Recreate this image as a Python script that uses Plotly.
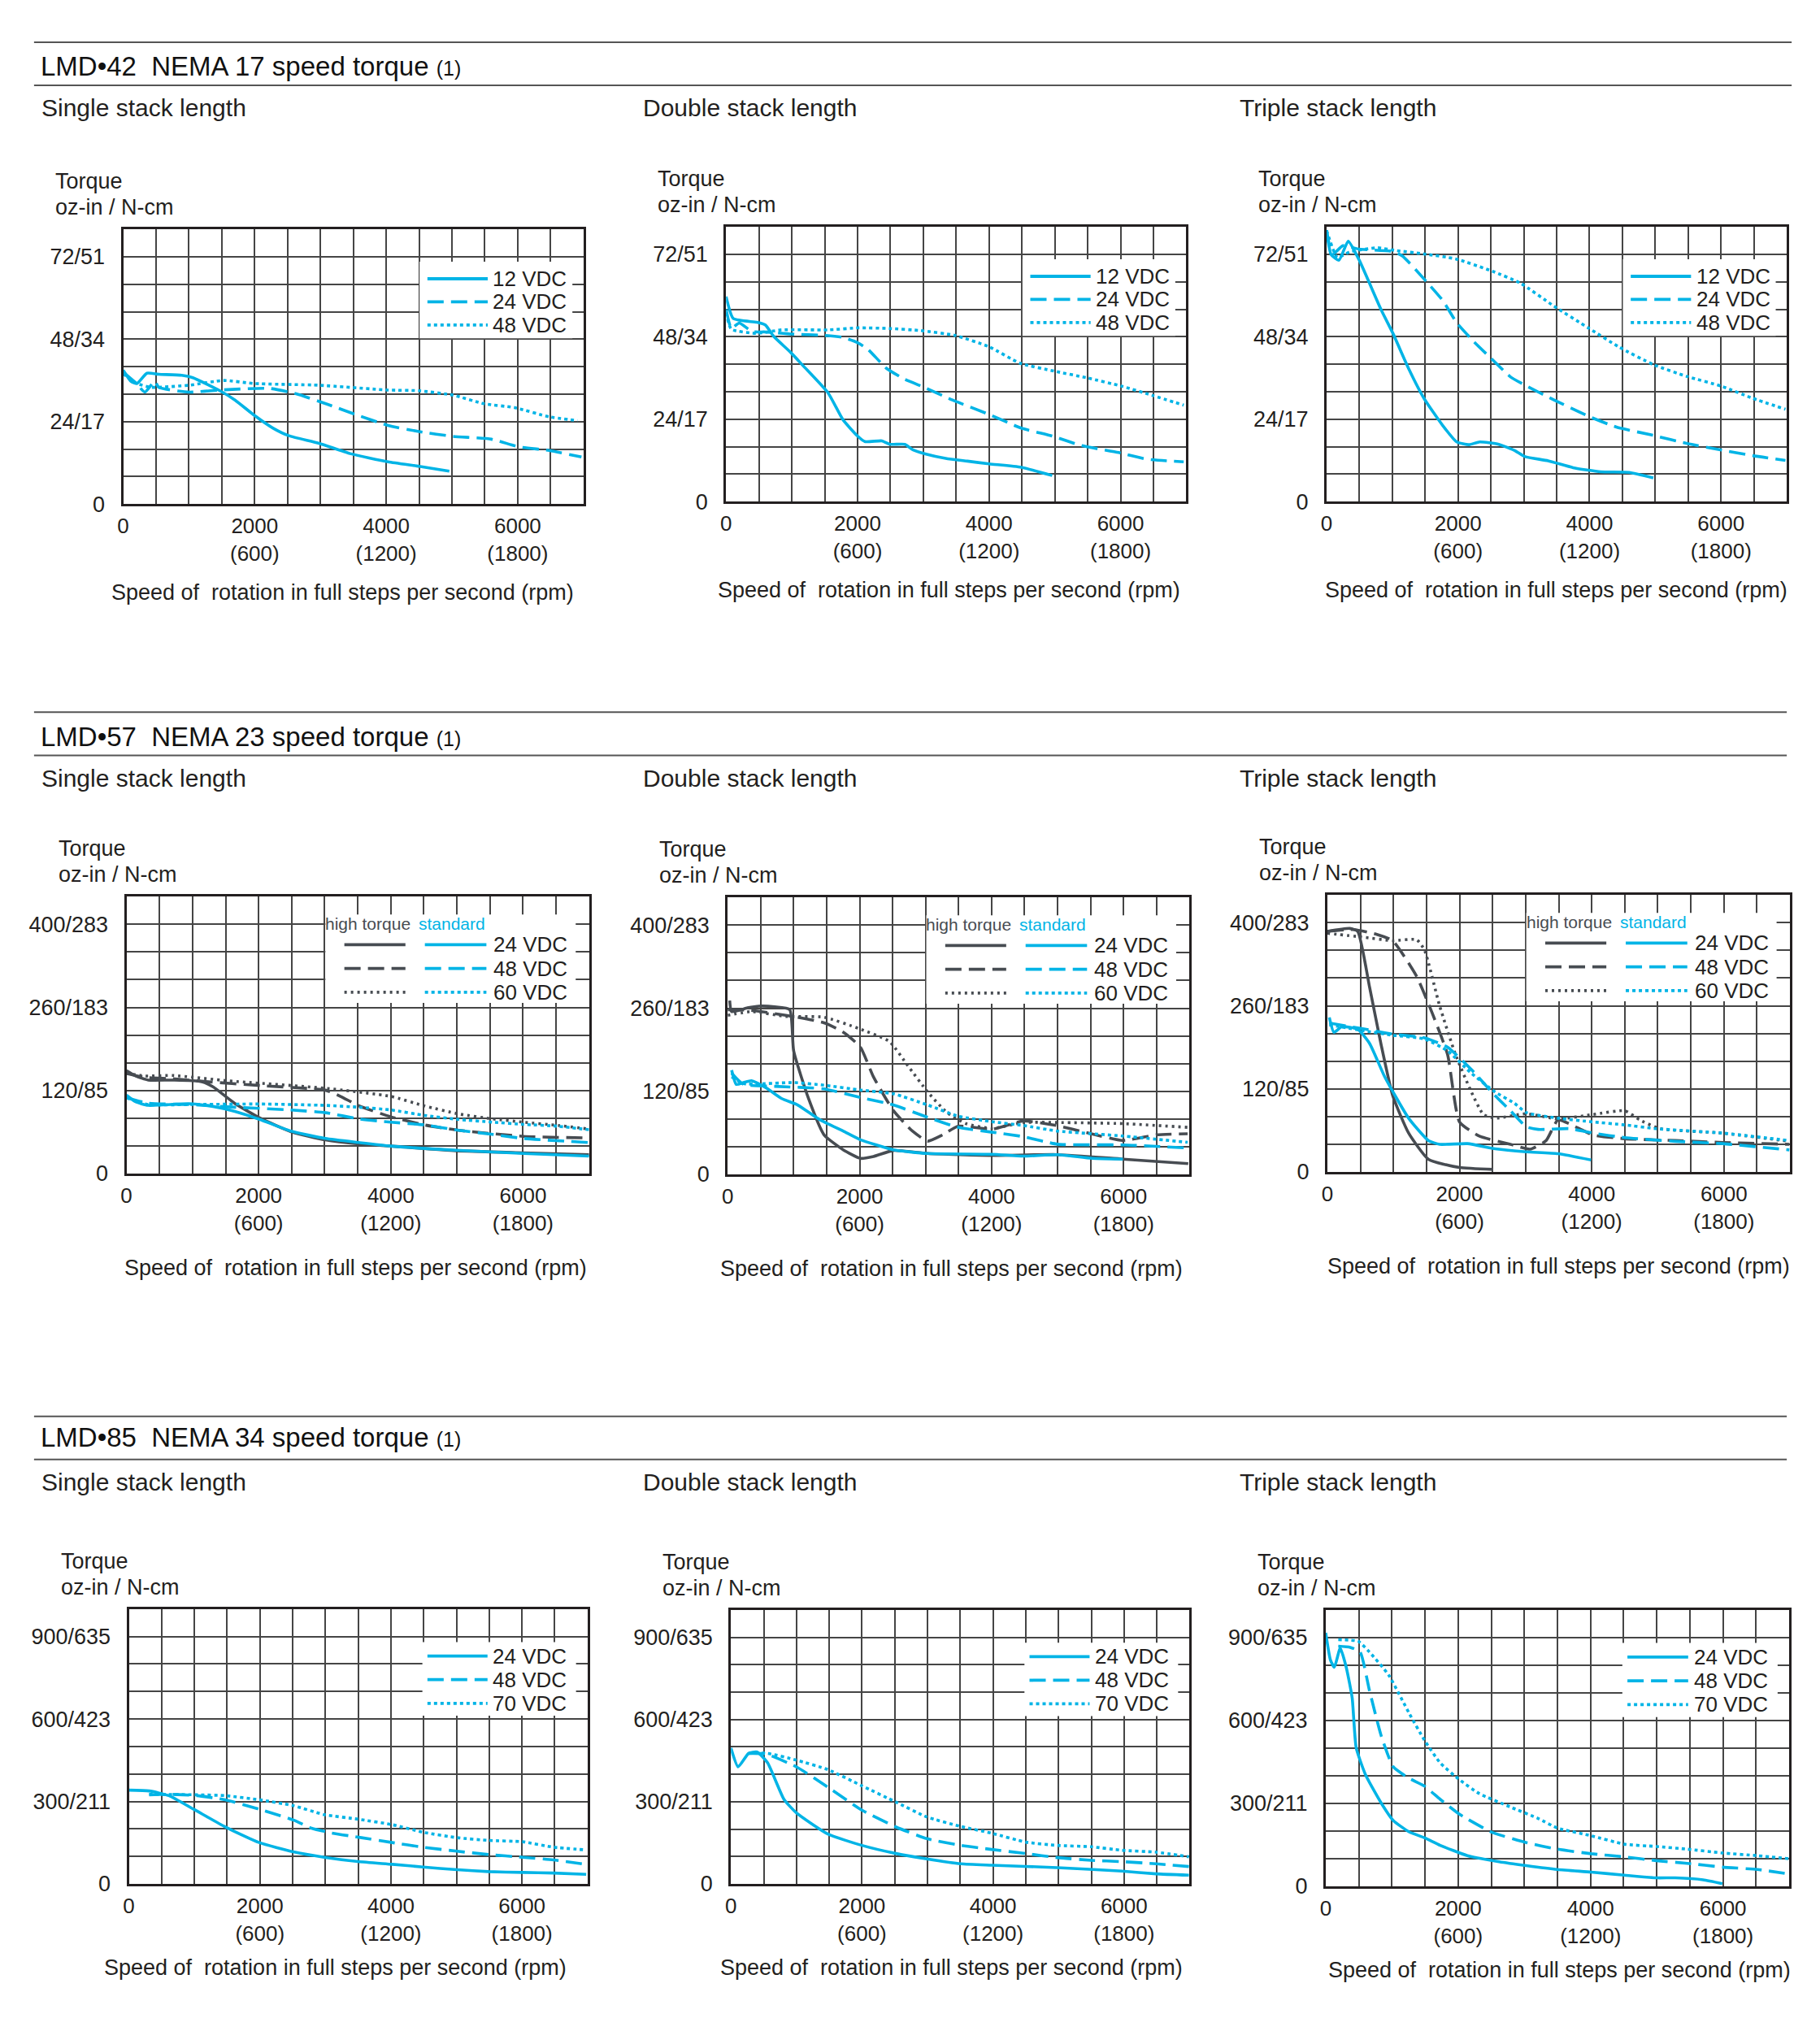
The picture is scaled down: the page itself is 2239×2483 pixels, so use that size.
import plotly.graph_objects as go

W, H = 2239, 2483
YS = 2483 / 2467          # compensation for the slight vertical squeeze seen in the render
FONT = "Liberation Sans, Arial, Helvetica, sans-serif"
TXT = "#231f20"
CYAN = "#00b4e6"
DARK = "#474c52"
GRID = "#454545"

# ---------------- axis text ----------------
speed_ticks = [0, 2000, 4000, 6000]
speed_tick_text = ["0", "2000<br>(600)", "4000<br>(1200)", "6000<br>(1800)"]
x_title = "Speed of\u00a0 rotation in full steps per second (rpm)"

n17_torque_labels = ["0", "24/17", "48/34", "72/51"]
n23_torque_labels = ["0", "120/85", "260/183", "400/283"]
n34_torque_labels = ["0", "300/211", "600/423", "900/635"]

section_titles = ["LMD\u202242", "LMD\u202257", "LMD\u202285"]
section_nema = ["NEMA 17 speed torque", "NEMA 23 speed torque", "NEMA 34 speed torque"]
stack_titles = ["Single stack length", "Double stack length", "Triple stack length"]

n17_volts = ["12 VDC", "24 VDC", "48 VDC"]
n23_volts = ["24 VDC", "48 VDC", "60 VDC"]
n34_volts = ["24 VDC", "48 VDC", "70 VDC"]

# ---------------- NEMA 17 (oz-in) ----------------
n17s_12_x = [0, 120, 210, 360, 540, 890, 1060, 1470, 1700, 1990, 2280, 2520, 2980, 3450, 4030, 4500, 4960]
n17s_12_y = [39.0, 35.7, 35.1, 38.1, 37.8, 37.5, 36.8, 33.0, 30.3, 25.9, 22.1, 19.9, 17.7, 14.7, 12.3, 11.0, 9.6]
n17s_24_x = [0, 190, 330, 480, 540, 1000, 1470, 2220, 2630, 3100, 3560, 4030, 4500, 5020, 5600, 6010, 6480, 6970]
n17s_24_y = [38.4, 35.3, 32.6, 35.8, 34.0, 32.6, 33.2, 33.7, 32.1, 29.1, 25.9, 22.9, 21.1, 19.7, 18.9, 16.7, 15.6, 13.7]
n17s_48_x = [0, 100, 210, 420, 1000, 1530, 1990, 2980, 4030, 4500, 5020, 5490, 5950, 6480, 6910]
n17s_48_y = [37.9, 36.5, 35.1, 34.0, 34.6, 36.0, 35.1, 34.6, 33.2, 33.0, 31.7, 29.2, 28.1, 25.4, 24.3]

n17d_12_x = [0, 110, 470, 600, 720, 980, 1170, 1550, 1780, 2000, 2110, 2370, 2490, 2720, 2840, 3030, 3340, 3670, 4000, 4490, 4960]
n17d_12_y = [59.7, 53.3, 52.2, 51.4, 48.2, 43.5, 39.6, 31.7, 23.8, 19.1, 17.5, 17.7, 16.7, 16.7, 15.1, 13.9, 12.6, 11.8, 11.0, 10.0, 7.6]
n17d_24_x = [0, 80, 200, 400, 600, 1000, 1500, 1780, 2000, 2160, 2440, 2720, 3010, 3480, 4000, 4490, 4960, 5410, 5970, 6390, 6960]
n17d_24_y = [56.0, 50.5, 52.0, 49.5, 49.4, 48.8, 48.4, 47.8, 46.3, 44.3, 38.8, 35.6, 33.3, 29.3, 25.4, 21.4, 19.1, 16.3, 14.3, 12.4, 11.6]
n17d_48_x = [0, 80, 460, 840, 1550, 2020, 2490, 2960, 3480, 4000, 4470, 4990, 5500, 6020, 6490, 6960]
n17d_48_y = [55.0, 50.2, 49.0, 50.0, 50.0, 50.6, 50.4, 49.8, 48.4, 45.1, 40.3, 38.0, 36.0, 33.6, 30.9, 28.1]

n17t_12_x = [0, 70, 190, 330, 495, 830, 1010, 1250, 1485, 1770, 1980, 2170, 2330, 2620, 2850, 3020, 3370, 3750, 4170, 4600, 4970]
n17t_12_y = [79.0, 71.9, 70.3, 75.8, 70.4, 55.9, 49.0, 38.7, 30.0, 22.1, 17.4, 16.6, 17.4, 16.7, 15.0, 13.1, 11.9, 9.9, 8.7, 8.5, 6.9]
n17t_24_x = [0, 90, 250, 500, 1010, 1155, 1485, 1770, 1980, 2240, 2520, 2800, 3020, 3460, 3980, 4410, 4970, 5490, 6010, 6480, 6980]
n17t_24_y = [79.0, 72.0, 74.5, 73.5, 72.8, 71.5, 64.8, 58.5, 52.1, 46.6, 41.4, 36.3, 33.9, 29.6, 24.9, 21.7, 19.3, 16.9, 15.0, 13.4, 12.0]
n17t_48_x = [0, 165, 350, 590, 780, 1060, 1485, 1960, 2520, 2950, 3460, 3980, 4450, 4970, 5490, 6010, 6480, 6980]
n17t_48_y = [79.0, 71.1, 72.7, 73.5, 73.9, 73.1, 72.1, 70.7, 67.1, 63.6, 56.9, 50.6, 45.0, 39.9, 36.4, 33.6, 30.1, 26.9]

# ---------------- NEMA 23 (chart units, grid step 40) ----------------
n23s_ht24_x = [0, 140, 330, 700, 1130, 1310, 1640, 2020, 2490, 3010, 3520, 4000, 4980, 6010, 7000]
n23s_ht24_y = [148.5, 140.7, 134.8, 134.8, 132.8, 125.0, 101.0, 79.8, 60.1, 48.3, 42.4, 39.3, 32.6, 29.5, 26.7]
n23s_ht48_x = [0, 280, 700, 1170, 2020, 3010, 3240, 3520, 4000, 4510, 5030, 6010, 7000]
n23s_ht48_y = [144.6, 138.7, 136.7, 132.8, 126.9, 120.2, 111.2, 97.4, 81.7, 69.9, 62.1, 53.4, 51.1]
n23s_ht60_x = [0, 280, 700, 1550, 3010, 4000, 4510, 5030, 5540, 6010, 6530, 7000]
n23s_ht60_y = [144.6, 140.7, 141.5, 133.6, 123.0, 111.2, 97.4, 85.7, 78.6, 73.9, 69.2, 64.0]
n23s_st24_x = [0, 140, 330, 940, 1310, 1640, 2020, 2490, 3010, 3520, 4000, 4980, 6010, 7000]
n23s_st24_y = [113.2, 103.3, 98.2, 100.6, 96.7, 89.6, 77.8, 60.9, 50.3, 44.4, 39.3, 33.4, 28.7, 24.8]
n23s_st48_x = [0, 330, 940, 1640, 2490, 3010, 3520, 4000, 4510, 5030, 5540, 6010, 7000]
n23s_st48_y = [109.2, 101.4, 99.4, 95.5, 91.6, 87.6, 78.6, 73.9, 69.9, 62.1, 56.2, 50.3, 44.4]
n23s_st60_x = [0, 330, 940, 2020, 3010, 3520, 4000, 4510, 5030, 5540, 6010, 6530, 7000]
n23s_st60_y = [109.2, 99.4, 99.4, 100.2, 98.2, 95.5, 91.6, 83.7, 77.8, 73.9, 70.7, 68.0, 62.9]

n23d_ht24_x = [30, 60, 300, 475, 710, 940, 1000, 1230, 1460, 1750, 2010, 2210, 2510, 3030, 4010, 5000, 5990, 6980]
n23d_ht24_y = [251.0, 235.0, 240.5, 243.0, 242.0, 238.0, 178.0, 108.0, 56.8, 35.1, 22.7, 25.4, 34.1, 29.7, 27.0, 28.1, 21.6, 15.1]
n23d_ht48_x = [0, 360, 880, 1460, 1750, 2010, 2210, 2510, 2800, 3030, 3260, 3490, 4010, 4480, 4980, 5460, 5980, 6500, 6970]
n23d_ht48_y = [237.8, 236.8, 229.7, 218.9, 205.4, 183.8, 140.5, 91.9, 62.2, 47.6, 56.8, 69.2, 64.9, 76.8, 70.3, 59.5, 48.6, 56.8, 58.4]
n23d_ht60_x = [0, 360, 880, 1460, 1980, 2450, 2730, 3030, 3320, 3610, 4010, 4480, 5000, 5980, 6970]
n23d_ht60_y = [229.7, 235.1, 228.1, 227.0, 210.8, 191.9, 156.8, 118.9, 89.2, 73.0, 65.9, 74.6, 74.6, 73.0, 67.6]
n23d_st24_x = [60, 130, 240, 360, 590, 820, 1060, 1400, 1750, 2010, 2510, 3030, 4010, 4480, 5000, 5520, 5990]
n23d_st24_y = [150.3, 129.7, 132.4, 135.1, 124.3, 109.2, 100.0, 78.4, 62.2, 49.7, 35.1, 29.7, 28.6, 25.9, 28.1, 22.7, 21.6]
n23d_st48_x = [60, 240, 710, 1460, 2010, 2510, 3030, 3490, 4010, 4480, 5000, 5980, 6970]
n23d_st48_y = [146.0, 129.7, 127.0, 123.2, 110.8, 100.0, 82.2, 67.6, 60.5, 54.1, 43.2, 42.2, 37.8]
n23d_st60_x = [60, 240, 1000, 1460, 2010, 2510, 3030, 3490, 4010, 4480, 5000, 5980, 6970]
n23d_st60_y = [140.5, 130.8, 132.4, 128.6, 121.6, 116.2, 100.0, 83.8, 75.7, 70.3, 62.2, 55.1, 45.9]

n23t_ht24_x = [0, 340, 460, 640, 810, 990, 1230, 1530, 2000, 2510]
n23t_ht24_y = [347.6, 351.9, 347.6, 266.5, 185.4, 109.7, 55.7, 17.8, 5.9, 3.2]
n23t_ht48_x = [0, 400, 750, 990, 1350, 1590, 1820, 2000, 2300, 2770, 3070, 3310, 3490, 3780, 4020, 4500, 5270, 5980, 6990]
n23t_ht48_y = [347.6, 350.3, 343.2, 334.1, 282.7, 228.6, 169.2, 71.9, 51.4, 39.5, 32.4, 44.9, 74.6, 63.8, 53.0, 47.6, 44.9, 42.2, 39.5]
n23t_ht60_x = [0, 520, 990, 1350, 1470, 1700, 1940, 2180, 2360, 2540, 3010, 3490, 4020, 4500, 4730, 5030, 5980, 6990]
n23t_ht60_y = [344.9, 339.5, 334.1, 335.7, 320.5, 239.5, 169.2, 115.1, 82.7, 77.3, 83.8, 76.2, 82.7, 88.1, 74.6, 62.2, 55.7, 43.8]
n23t_st24_x = [30, 100, 220, 460, 640, 870, 1230, 1530, 1700, 2120, 2540, 3010, 3490, 3990]
n23t_st24_y = [223.2, 201.6, 209.7, 206.0, 185.4, 136.8, 77.3, 44.9, 39.5, 40.5, 33.0, 28.6, 25.9, 16.8]
n23t_st48_x = [30, 520, 990, 1470, 1820, 2180, 2540, 2770, 3010, 3190, 3660, 4020, 4500, 5270, 5980, 6990]
n23t_st48_y = [215.0, 207.0, 199.0, 193.5, 180.0, 147.6, 109.7, 88.1, 64.9, 61.1, 62.2, 55.7, 49.2, 43.8, 40.5, 31.4]
n23t_st60_x = [30, 520, 990, 1470, 1820, 2180, 2540, 2830, 3010, 3490, 4020, 4500, 4970, 5980, 6990]
n23t_st60_y = [212.4, 204.3, 197.3, 191.9, 174.6, 142.2, 115.1, 98.9, 85.4, 77.3, 71.9, 67.6, 62.2, 55.7, 44.9]

# ---------------- NEMA 34 (oz-in) ----------------
n34s_24_x = [0, 310, 610, 990, 1470, 1990, 2510, 2980, 3500, 4020, 4490, 5010, 5490, 6010, 6480, 6980]
n34s_24_y = [340.9, 338.0, 321.0, 271.5, 207.5, 150.2, 116.6, 96.8, 81.0, 71.1, 61.3, 51.4, 44.5, 41.5, 39.5, 34.6]
n34s_48_x = [310, 610, 1040, 1470, 1990, 2510, 2790, 3080, 3550, 4020, 4490, 5010, 5490, 6010, 6480, 6980]
n34s_48_y = [324.0, 326.0, 321.0, 306.0, 271.7, 232.2, 202.6, 185.8, 168.0, 150.2, 133.4, 118.6, 106.7, 96.8, 87.0, 71.1]
n34s_70_x = [310, 1040, 1470, 1990, 2510, 2980, 3500, 4020, 4490, 5010, 5490, 6010, 6480, 6980]
n34s_70_y = [326.0, 324.0, 321.0, 306.0, 284.6, 252.0, 235.2, 215.4, 187.7, 168.0, 158.1, 153.2, 133.4, 123.5]

n34d_24_x = [0, 110, 270, 400, 560, 810, 1000, 1480, 2000, 2520, 2990, 3510, 3980, 4980, 5970, 6490, 6990]
n34d_24_y = [496.0, 427.0, 476.3, 481.0, 441.7, 308.3, 258.9, 181.8, 140.3, 110.7, 90.9, 73.1, 68.2, 59.3, 46.4, 36.6, 31.6]
n34d_48_x = [270, 530, 1000, 1480, 2000, 2520, 2990, 3510, 3980, 4500, 4980, 5500, 5970, 6490, 6990]
n34d_48_y = [476.3, 474.3, 426.9, 352.8, 268.8, 207.5, 165.0, 140.3, 125.5, 110.7, 95.8, 86.0, 81.0, 73.1, 63.2]
n34d_70_x = [270, 560, 1000, 1480, 2000, 2520, 2990, 3510, 3980, 4500, 4980, 5500, 5970, 6490, 6990]
n34d_70_y = [476.3, 476.3, 451.6, 417.0, 357.7, 298.4, 244.0, 209.5, 184.8, 152.2, 140.3, 135.4, 122.5, 115.6, 98.8]

n34t_24_x = [0, 70, 130, 220, 310, 400, 460, 600, 840, 1020, 1260, 1490, 1730, 2140, 2620, 3030, 3500, 4010, 4510, 4990, 5280, 5700, 5990]
n34t_24_y = [916.9, 819.9, 792.2, 861.5, 792.2, 681.4, 501.4, 404.4, 300.6, 238.2, 196.7, 175.9, 148.2, 110.8, 88.6, 74.8, 60.9, 51.2, 40.2, 30.5, 30.5, 23.5, 9.7]
n34t_48_x = [190, 370, 520, 660, 840, 1020, 1260, 1490, 1730, 2030, 2500, 3030, 3500, 4010, 4510, 4990, 5460, 5990, 6520, 7000]
n34t_48_y = [868.4, 864.3, 847.6, 709.1, 543.0, 432.1, 390.6, 362.9, 314.4, 259.0, 196.7, 157.9, 134.3, 117.7, 106.6, 92.8, 83.1, 69.3, 60.9, 44.3]
n34t_70_x = [190, 490, 660, 950, 1260, 1490, 1730, 2030, 2320, 2790, 3210, 3500, 4010, 4510, 4990, 5460, 5990, 6520, 7000]
n34t_70_y = [892.0, 886.4, 847.6, 764.5, 626.0, 529.1, 446.0, 383.7, 335.2, 286.7, 245.2, 210.5, 182.8, 152.4, 144.0, 134.3, 120.5, 110.8, 99.7]

# ---------------- styles ----------------
SOLID = "solid"
DASH = "20px,9px"
DOT = "4px,4px"
DARK_DOT = "3px,5px"
STYLE = {
    "st": {SOLID: (CYAN, SOLID), "dash": (CYAN, DASH), "dot": (CYAN, DOT)},
    "ht": {SOLID: (DARK, SOLID), "dash": (DARK, DASH), "dot": (DARK, DARK_DOT)},
}

plots = [
    [("st", SOLID, n17s_12_x, n17s_12_y), ("st", "dash", n17s_24_x, n17s_24_y), ("st", "dot", n17s_48_x, n17s_48_y)],
    [("st", SOLID, n17d_12_x, n17d_12_y), ("st", "dash", n17d_24_x, n17d_24_y), ("st", "dot", n17d_48_x, n17d_48_y)],
    [("st", SOLID, n17t_12_x, n17t_12_y), ("st", "dash", n17t_24_x, n17t_24_y), ("st", "dot", n17t_48_x, n17t_48_y)],
    [("st", SOLID, n23s_st24_x, n23s_st24_y), ("st", "dash", n23s_st48_x, n23s_st48_y), ("st", "dot", n23s_st60_x, n23s_st60_y),
     ("ht", SOLID, n23s_ht24_x, n23s_ht24_y), ("ht", "dash", n23s_ht48_x, n23s_ht48_y), ("ht", "dot", n23s_ht60_x, n23s_ht60_y)],
    [("st", SOLID, n23d_st24_x, n23d_st24_y), ("st", "dash", n23d_st48_x, n23d_st48_y), ("st", "dot", n23d_st60_x, n23d_st60_y),
     ("ht", SOLID, n23d_ht24_x, n23d_ht24_y), ("ht", "dash", n23d_ht48_x, n23d_ht48_y), ("ht", "dot", n23d_ht60_x, n23d_ht60_y)],
    [("st", SOLID, n23t_st24_x, n23t_st24_y), ("st", "dash", n23t_st48_x, n23t_st48_y), ("st", "dot", n23t_st60_x, n23t_st60_y),
     ("ht", SOLID, n23t_ht24_x, n23t_ht24_y), ("ht", "dash", n23t_ht48_x, n23t_ht48_y), ("ht", "dot", n23t_ht60_x, n23t_ht60_y)],
    [("st", SOLID, n34s_24_x, n34s_24_y), ("st", "dash", n34s_48_x, n34s_48_y), ("st", "dot", n34s_70_x, n34s_70_y)],
    [("st", SOLID, n34d_24_x, n34d_24_y), ("st", "dash", n34d_48_x, n34d_48_y), ("st", "dot", n34d_70_x, n34d_70_y)],
    [("st", SOLID, n34t_24_x, n34t_24_y), ("st", "dash", n34t_48_x, n34t_48_y), ("st", "dot", n34t_70_x, n34t_70_y)],
]

row_grid = [8, 40, 100]
row_labels = [n17_torque_labels, n23_torque_labels, n34_torque_labels]
row_volts = [n17_volts, n23_volts, n34_volts]

# plot boxes in px: left, right, top, bottom
BOX = [
    (145, 713, 282, 620), (889, 1457, 279, 617), (1630, 2198, 279, 617),
    (149, 720, 1103, 1443), (891, 1461, 1104, 1444), (1631, 2202, 1101, 1441),
    (152, 718, 1979, 2317), (895, 1461, 1980, 2317), (1629, 2201, 1980, 2320),
]
xtitle_cx = [421, 1169, 1918, 437, 1172, 1922, 412, 1172, 1923]
rule_y = [(52, 105), (876, 929), (1742, 1795)]
rule_right = [2204, 2198, 2198]
title_y = [81, 906, 1768]
sub_y = [132, 957, 1823]
sub_x = [48, 790, 1527]
xtitle_off = [109, 116, 103]
LSHIFT = -6
CSHIFT = -5


def px(x):
    return x / W


def py(y):
    return 1 - (y * YS) / H


fig = go.Figure()
layout = dict(
    width=W, height=H, margin=dict(l=0, r=0, t=0, b=0, pad=0), autosize=False,
    paper_bgcolor="white", plot_bgcolor="white", showlegend=False,
    font=dict(family=FONT, color=TXT, size=26),
)
shapes, annotations = [], []

for i in range(9):
    r, c = divmod(i, 3)
    n = i + 1
    sx = "" if n == 1 else str(n)
    xa, ya = "x" + sx, "y" + sx
    l, rr, t, b = BOX[i]
    g = row_grid[r]
    layout["xaxis" + sx] = dict(
        domain=[px(l), px(rr)], anchor=ya, range=[0, 7000],
        tickmode="array", tickvals=speed_ticks, ticktext=speed_tick_text,
        showgrid=True, gridcolor=GRID, gridwidth=1.5,
        minor=dict(dtick=500, tick0=0, showgrid=True, gridcolor=GRID, gridwidth=1.5, ticks=""),
        showline=True, mirror=True, linecolor=TXT, linewidth=3, ticks="", zeroline=False,
        tickfont=dict(size=26, color=TXT, family=FONT), ticklabelstandoff=2, fixedrange=True,
    )
    layout["yaxis" + sx] = dict(
        domain=[py(b), py(t)], anchor=xa, range=[0, 10 * g],
        tickmode="array", tickvals=[0, 3 * g, 6 * g, 9 * g], ticktext=row_labels[r],
        showgrid=True, gridcolor=GRID, gridwidth=1.5,
        minor=dict(dtick=g, tick0=0, showgrid=True, gridcolor=GRID, gridwidth=1.5, ticks=""),
        showline=True, mirror=True, linecolor=TXT, linewidth=3, ticks="", zeroline=False,
        tickfont=dict(size=27, color=TXT, family=FONT), ticklabelstandoff=14, fixedrange=True,
    )

    series = sorted(plots[i], key=lambda s: 0 if s[0] == "ht" else 1)
    for kind, style, xs, ys in series:
        color, dash = STYLE[kind][style]
        fig.add_trace(go.Scatter(
            x=xs, y=ys, mode="lines", xaxis=xa, yaxis=ya,
            line=dict(color=color, width=3.6, dash=dash, shape="spline", smoothing=0.5),
            hoverinfo="skip",
        ))

    # legend drawn inside the plot (domain coordinates)
    xr, yr = xa + " domain", ya + " domain"
    volts = row_volts[r]
    if r == 1:
        rect = (0.43, 0.971, 0.616, 0.936)
        ly = [0.827, 0.741, 0.655]
        groups = [("ht", 0.471, 0.603), ("st", 0.645, 0.778)]
        lab_x = 0.801
    elif r == 0:
        rect = (0.644, 0.976, 0.603, 0.882)
        ly = [0.82, 0.736, 0.652]
        groups = [("st", 0.661, 0.792)]
        lab_x = 0.81
    else:
        rect = (0.64, 0.975, 0.612, 0.88)
        ly = [0.829, 0.743, 0.657]
        groups = [("st", 0.651, 0.782)]
        lab_x = 0.801
    shapes.append(dict(type="rect", xref=xr, yref=yr, x0=rect[0], x1=rect[1], y0=rect[2], y1=rect[3],
                       fillcolor="white", line=dict(width=0), layer="above"))
    for kind, gx0, gx1 in groups:
        for k, style in enumerate([SOLID, "dash", "dot"]):
            color, dash = STYLE[kind][style]
            shapes.append(dict(type="line", xref=xr, yref=yr, x0=gx0, x1=gx1, y0=ly[k], y1=ly[k],
                               line=dict(color=color, width=3.8, dash=dash), layer="above"))
    for k in range(3):
        annotations.append(dict(xref=xr, yref=yr, x=lab_x, y=ly[k], text=volts[k], showarrow=False,
                                xanchor="left", yanchor="middle", xshift=LSHIFT,
                                font=dict(size=26, color=TXT, family=FONT)))
    if r == 1:
        annotations.append(dict(xref=xr, yref=yr, x=0.531, y=0.903, text="high torque", showarrow=False,
                                xanchor="center", yanchor="middle", xshift=CSHIFT,
                                font=dict(size=21, color=DARK, family=FONT)))
        annotations.append(dict(xref=xr, yref=yr, x=0.713, y=0.903, text="standard", showarrow=False,
                                xanchor="center", yanchor="middle", xshift=CSHIFT,
                                font=dict(size=21, color=CYAN, family=FONT)))

    annotations.append(dict(xref="paper", yref="paper", x=px(l - 80), y=py(t - 59), text="Torque",
                            showarrow=False, xanchor="left", yanchor="middle", xshift=LSHIFT,
                            font=dict(size=27, color=TXT)))
    annotations.append(dict(xref="paper", yref="paper", x=px(l - 80), y=py(t - 27), text="oz-in / N-cm",
                            showarrow=False, xanchor="left", yanchor="middle", xshift=LSHIFT,
                            font=dict(size=27, color=TXT)))
    annotations.append(dict(xref="paper", yref="paper", x=px(xtitle_cx[i]), y=py(b + xtitle_off[r]), text=x_title,
                            showarrow=False, xanchor="center", yanchor="middle", xshift=CSHIFT,
                            font=dict(size=27, color=TXT)))

for r in range(3):
    for yy in rule_y[r]:
        shapes.append(dict(type="line", xref="paper", yref="paper", x0=px(35), x1=px(rule_right[r]),
                           y0=py(yy), y1=py(yy), line=dict(color="#555555", width=2)))
    annotations.append(dict(
        xref="paper", yref="paper", x=px(47), y=py(title_y[r]), showarrow=False, xanchor="left", yanchor="middle",
        xshift=LSHIFT,
        text=section_titles[r] + "\u00a0\u00a0" + section_nema[r] + " <span style='font-size:25px'>(1)</span>",
        font=dict(size=33, color="#111111")))
    for c in range(3):
        annotations.append(dict(xref="paper", yref="paper", x=px(sub_x[c]), y=py(sub_y[r]), text=stack_titles[c],
                                showarrow=False, xanchor="left", yanchor="middle", xshift=LSHIFT,
                                font=dict(size=30, color=TXT)))

layout["shapes"] = shapes
layout["annotations"] = annotations
fig.update_layout(**layout)
fig.write_html("out.html")
